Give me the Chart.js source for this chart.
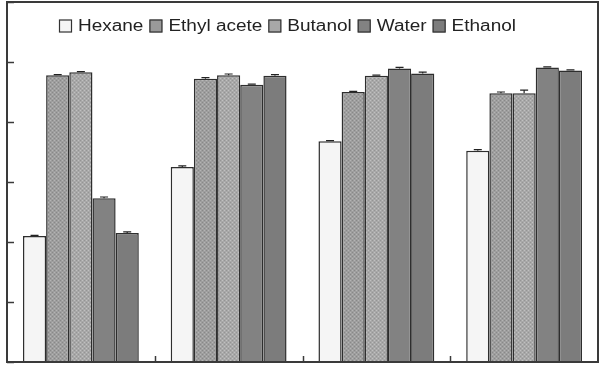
<!DOCTYPE html>
<html>
<head>
<meta charset="utf-8">
<script src="https://cdn.jsdelivr.net/npm/chart.js@4.4.0/dist/chart.umd.min.js"></script>
<style>
html,body{margin:0;padding:0;background:#fff;}
#wrap{width:604px;height:366px;position:relative;}
</style>
</head>
<body>
<div id="wrap"><canvas id="c" width="604" height="366"></canvas></div>
<script>
const categories = ["1", "2", "3", "4"];
const seriesNames = ["Hexane", "Ethyl acete", "Butanol", "Water", "Ethanol"];
const hexane   = [2.10, 3.25, 3.68, 3.52];
const ethylAc  = [4.78, 4.72, 4.50, 4.48];
const butanol  = [4.83, 4.78, 4.77, 4.48];
const water    = [2.73, 4.62, 4.89, 4.91];
const ethanol  = [2.15, 4.77, 4.81, 4.86];
const hexaneErr  = [0.01, 0.02, 0.01, 0.02];
const ethylAcErr = [0.01, 0.02, 0.01, 0.02];
const butanolErr = [0.01, 0.02, 0.01, 0.05];
const waterErr   = [0.02, 0.01, 0.02, 0.01];
const ethanolErr = [0.02, 0.02, 0.02, 0.01];
const yTicks = [0, 1, 2, 3, 4, 5, 6];

function makePattern(base, dot1, dot2) {
  const t = document.createElement('canvas');
  t.width = 4; t.height = 4;
  const g = t.getContext('2d');
  g.fillStyle = base; g.fillRect(0, 0, 4, 4);
  g.fillStyle = dot1; g.fillRect(0, 0, 1, 1); g.fillRect(2, 2, 1, 1);
  g.fillStyle = dot2; g.fillRect(2, 0, 1, 1); g.fillRect(0, 2, 1, 1);
  return g.createPattern(t, 'repeat');
}
const ctx = document.getElementById('c').getContext('2d');
const ethylFill = makePattern('#9e9e9e', '#888888', '#b4b4b4');
const butFill = makePattern('#a8a8a8', '#949494', '#c0c0c0');

const values = [hexane, ethylAc, butanol, water, ethanol];
const errs = [hexaneErr, ethylAcErr, butanolErr, waterErr, ethanolErr];
const fills = ['#f5f5f5', ethylFill, butFill, '#828282', '#7c7c7c'];
const legendFills = ['#f5f5f5', '#9a9a9a', '#a8a8a8', '#828282', '#7c7c7c'];

const framePlugin = {
  id: 'frame',
  afterDatasetsDraw(chart) {
    const c = chart.ctx;
    const a = chart.chartArea;
    const y = chart.scales.y, x = chart.scales.x;
    c.save();
    // error bars
    c.strokeStyle = '#222';
    c.lineWidth = 1.2;
    chart.data.datasets.forEach((ds, di) => {
      const meta = chart.getDatasetMeta(di);
      meta.data.forEach((bar, i) => {
        const v = ds.data[i], e = errs[di][i];
        const yt = y.getPixelForValue(v + e);
        const yb = y.getPixelForValue(v);
        c.beginPath();
        c.moveTo(bar.x, yb); c.lineTo(bar.x, yt);
        c.moveTo(bar.x - 4, yt); c.lineTo(bar.x + 4, yt);
        c.stroke();
      });
    });
    // frame
    c.strokeStyle = '#3a3a3a';
    c.lineWidth = 2;
    c.strokeRect(a.left, a.top, a.right - a.left, a.bottom - a.top);
    // y ticks (inward)
    c.lineWidth = 1.5;
    yTicks.forEach(t => {
      const py = Math.round(y.getPixelForValue(t)) + 0.5;
      c.beginPath(); c.moveTo(a.left, py); c.lineTo(a.left + 7, py); c.stroke();
    });
    // x ticks between groups (inward)
    for (let i = 1; i < categories.length; i++) {
      const px = Math.round((x.getPixelForValue(i - 1) + x.getPixelForValue(i)) / 2) + 0.5;
      c.beginPath(); c.moveTo(px, a.bottom); c.lineTo(px, a.bottom - 6); c.stroke();
    }
    // legend
    c.font = '16px "Liberation Sans", Arial, sans-serif';
    c.textBaseline = 'middle';
    c.textAlign = 'left';
    let W = 0;
    seriesNames.forEach(n => { W += c.measureText(n).width; });
    const s = 338 / W;
    let lx = a.left + 52;
    const ly = a.top + 24;
    seriesNames.forEach((n, i) => {
      c.fillStyle = legendFills[i];
      c.fillRect(lx, ly - 6.5, 13, 13);
      c.strokeStyle = '#333';
      c.lineWidth = 1.2;
      c.strokeRect(lx + 0.5, ly - 6, 12, 12);
      c.fillStyle = '#222';
      c.save();
      c.translate(lx + 19, ly + 1);
      c.scale(s, 1);
      c.fillText(n, 0, 0);
      c.restore();
      lx += 19 + c.measureText(n).width * s + 6;
    });
    c.restore();
  }
};

new Chart(ctx, {
  type: 'bar',
  data: {
    labels: categories,
    datasets: seriesNames.map((n, i) => ({
      label: n,
      data: values[i],
      backgroundColor: fills[i],
      borderColor: '#2e2e2e',
      borderWidth: 1.5,
      borderSkipped: 'bottom',
      categoryPercentage: 0.784,
      barPercentage: 1.0
    }))
  },
  options: {
    responsive: false,
    animation: false,
    devicePixelRatio: 1,
    layout: { padding: { left: 7, right: 6, top: 2, bottom: 4 } },
    scales: {
      x: { display: false },
      y: { display: false, min: 0, max: 6 }
    },
    plugins: {
      tooltip: { enabled: false },
      legend: { display: false }
    }
  },
  plugins: [framePlugin]
});
</script>
</body>
</html>
